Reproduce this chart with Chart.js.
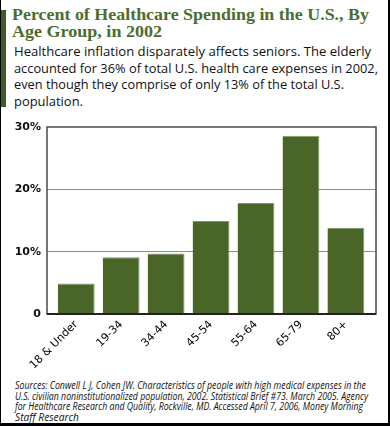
<!DOCTYPE html>
<html>
<head>
<meta charset="utf-8">
<title>Percent of Healthcare Spending by Age Group</title>
<script src="https://cdn.jsdelivr.net/npm/chart.js@4.4.1/dist/chart.umd.min.js"></script>
<style>
  html, body { margin: 0; padding: 0; background: #fff; }
  #frame {
    position: relative; width: 390px; height: 426px; box-sizing: border-box;
    border-left: 1px solid #000; border-right: 2px solid #000; border-bottom: 3px solid #000;
    overflow: hidden;
  }
  #green-bar { position: absolute; left: 0; top: 10px; width: 5px; height: 97px; background: #3e5c25; }
  .line { position: absolute; white-space: nowrap; transform-origin: 0 0; }
  .title { font-family: "Liberation Serif", serif; font-weight: bold; font-size: 17px; color: #4d6d2d; line-height: 17px; }
  .sub { font-family: "Open Sans", sans-serif; font-size: 13px; color: #111; line-height: 14px; }
  .src { font-family: "Open Sans", sans-serif; font-style: italic; font-size: 10px; color: #111; line-height: 10px; }
  #chart-box { position: absolute; left: 0; top: 112px; }
</style>
</head>
<body>
<div id="frame">
  <div id="green-bar"></div>

  <div class="line title" data-x="11" data-y="6" data-w="357">Percent of Healthcare Spending in the U.S., By</div>
  <div class="line title" data-x="11" data-y="23" data-w="150">Age Group, in 2002</div>

  <div class="line sub" data-x="13" data-y="44" data-w="357">Healthcare inflation disparately affects seniors. The elderly</div>
  <div class="line sub" data-x="13" data-y="61" data-w="364">accounted for 36% of total U.S. health care expenses in 2002,</div>
  <div class="line sub" data-x="13" data-y="77" data-w="330">even though they comprise of only 13% of the total U.S.</div>
  <div class="line sub" data-x="13" data-y="94" data-w="69">population.</div>

  <div class="line src" data-x="14" data-y="380" data-w="351">Sources: Conwell L J, Cohen JW. Characteristics of people with high medical expenses in the</div>
  <div class="line src" data-x="14" data-y="390.5" data-w="353">U.S. civilian noninstitutionalized population, 2002. Statistical Brief #73. March 2005. Agency</div>
  <div class="line src" data-x="14" data-y="401" data-w="348">for Healthcare Research and Quality, Rockville, MD. Accessed April 7, 2006, Money Morning</div>
  <div class="line src" data-x="14" data-y="411.5" data-w="64">Staff Research</div>

  <div id="chart-box"><canvas id="my-chart" width="390" height="263"></canvas></div>
</div>

<script>
'use strict';

// **** Chart Data ****

let ageGroups = ['18 & Under', '19-34', '34-44', '45-54', '55-64', '65-79', '80+'];
let spendingShare = [4.9, 9.1, 9.7, 14.9, 17.8, 28.6, 13.8];
let yTicks = [0, 10, 20, 30];

// **** Text Lines ****

let lines = document.querySelectorAll('.line');
for (let i = 0; i < lines.length; i++) {
  let el = lines[i];
  el.style.left = el.dataset.x + 'px';
  el.style.top = el.dataset.y + 'px';
  let natural = el.getBoundingClientRect().width;
  let target = parseFloat(el.dataset.w);
  el.style.transform = 'scaleX(' + (target / natural) + ')';
}

// **** Frame Plugin ****

let framePlugin = {
  id: 'frame',
  afterDatasetsDraw(chart) {
    let a = chart.chartArea;
    let c = chart.ctx;
    c.save();
    c.strokeStyle = '#4a4a4a';
    c.lineWidth = 1.5;
    c.strokeRect(a.left, a.top, a.right - a.left, a.bottom - a.top);
    c.strokeStyle = '#222';
    c.lineWidth = 2;
    c.beginPath();
    c.moveTo(a.left, a.bottom);
    c.lineTo(a.right, a.bottom);
    c.stroke();
    c.restore();
  }
};

// **** Render Chart ****

let ctx = document.getElementById('my-chart').getContext('2d');

let myChartObj = {
  type: 'bar',
  data: {
    datasets: [{
      label: 'Percent of Healthcare Spending',
      data: spendingShare.map((v, i) => ({ x: i, y: v })),
      backgroundColor: '#496628',
      borderColor: '#7f9968',
      borderWidth: { top: 1, left: 0, right: 1, bottom: 0 },
      borderSkipped: false,
      categoryPercentage: 1,
      barPercentage: 0.82
    }]
  },
  options: {
    responsive: false,
    animation: false,
    devicePixelRatio: 1,
    layout: { padding: { top: 15, right: 15, left: 0, bottom: 0 } },
    plugins: { legend: { display: false }, tooltip: { enabled: false } },
    scales: {
      x: {
        type: 'linear',
        offset: false,
        min: -0.65,
        max: 6.67,
        grid: { display: false, drawTicks: false },
        border: { display: false },
        afterBuildTicks(scale) {
          scale.ticks = ageGroups.map((c, i) => ({ value: i }));
        },
        afterFit(scale) { scale.height = 61; },
        ticks: {
          autoSkip: false,
          minRotation: 45,
          maxRotation: 45,
          padding: 4,
          color: '#000',
          font: { family: 'DejaVu Sans', size: 11 },
          callback: (v) => ageGroups[v]
        }
      },
      y: {
        min: 0,
        max: 30,
        afterBuildTicks(scale) {
          scale.ticks = yTicks.map((v) => ({ value: v }));
        },
        afterFit(scale) { scale.width = 46; },
        grid: {
          drawTicks: false,
          color: (c) => (c.tick.value === 10 || c.tick.value === 20) ? '#8c8c8c' : 'rgba(0,0,0,0)',
          lineWidth: 1
        },
        border: { display: false },
        ticks: {
          padding: 6,
          color: '#111',
          font: { family: 'DejaVu Sans', size: 11, weight: 'bold' },
          callback: (v) => v === 0 ? '0' : v + '%'
        }
      }
    }
  },
  plugins: [framePlugin]
};

new Chart(ctx, myChartObj);
</script>
</body>
</html>
